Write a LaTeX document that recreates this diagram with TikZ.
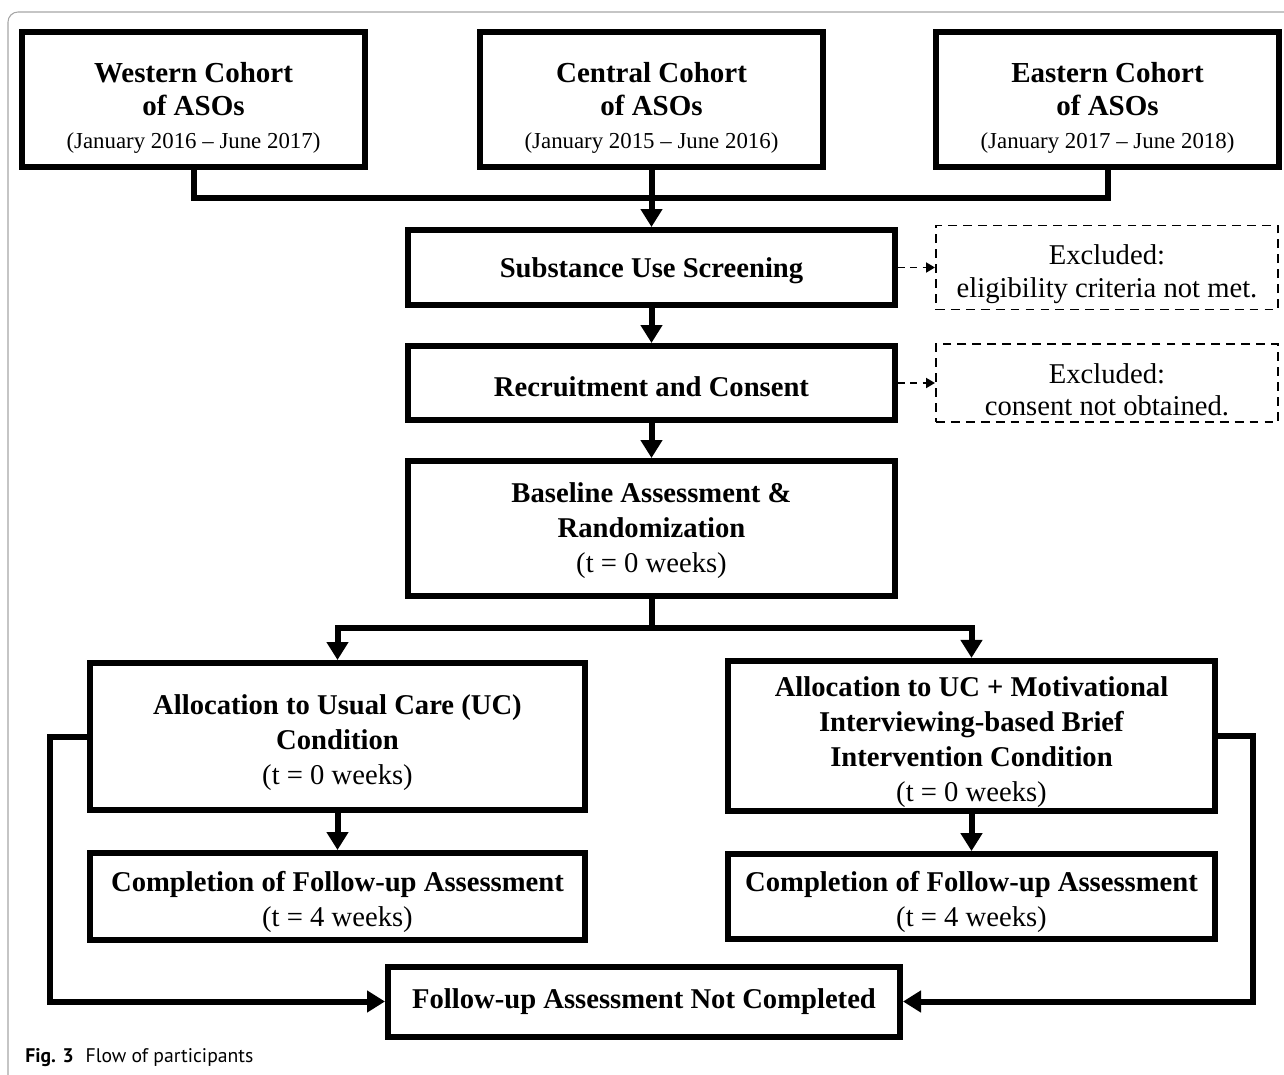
\documentclass[tikz,border=0pt]{standalone}
\usepackage{fontspec}
\setmainfont{Liberation Serif}
\newfontfamily\capfont{PT Sans}
\usepackage{tikz}
\usetikzlibrary{arrows.meta,positioning,calc}
\newcommand{\topstrut}[1]{\rule{0pt}{#1}}

\begin{document}
\begin{tikzpicture}[
    box/.style={rectangle, draw, line width=0.12cm, align=center, inner sep=2pt, font=\fontsize{16.3}{20}\selectfont},
    exclbox/.style={rectangle, draw, dash pattern=on 5pt off 3.5pt, line width=1.1pt, align=center, minimum width=6.84cm, minimum height=1.5cm, font=\fontsize{16.3}{18.6}\selectfont},
    cohort/.style={box, minimum width=6.86cm, minimum height=2.7cm, font=\fontsize{16.5}{18.6}\selectfont},
    link/.style={line width=0.12cm},
    arrow/.style={-{Triangle[length=0.36cm, width=0.42cm]}, line width=0.12cm},
    dasharrow/.style={-{Triangle[length=0.18cm, width=0.2cm]}, dash pattern=on 4pt off 3pt, line width=1.1pt}
  ]
    \useasboundingbox (0,0) rectangle (25.68,-21.5);
    % frame
    \draw[gray!70, line width=0.6pt, rounded corners=0.2cm] (0.16,-21.6) -- (0.16,-0.24) -- (25.8,-0.24);

    % cohorts
    \node[cohort] (central) at (13.03,-1.99) {\topstrut{21pt}\textbf{Central Cohort}\\\textbf{of ASOs}\\{\fontsize{13}{16}\selectfont (January 2015 – June 2016)}};
    \node[cohort, left=2.18cm of central] (western) {\topstrut{21pt}\textbf{Western Cohort}\\\textbf{of ASOs}\\{\fontsize{13}{16}\selectfont (January 2016 – June 2017)}};
    \node[cohort, right=2.14cm of central] (eastern) {\topstrut{21pt}\textbf{Eastern Cohort}\\\textbf{of ASOs}\\{\fontsize{13}{16}\selectfont (January 2017 – June 2018)}};

    % main column
    \node[box, minimum width=9.74cm, minimum height=1.5cm, below=1.14cm of central] (screen) {\topstrut{15pt}\textbf{Substance Use Screening}};
    \node[box, minimum width=9.74cm, minimum height=1.48cm, below=0.7cm of screen] (recruit) {\topstrut{15pt}\textbf{Recruitment and Consent}};
    \node[box, minimum width=9.74cm, minimum height=2.7cm, below=0.7cm of recruit] (baseline) {\topstrut{14pt}\textbf{Baseline Assessment \&}\\\textbf{Randomization}\\(t = 0 weeks)};

    % exclusions
    \node[exclbox, right=0.74cm of screen] (excl1) {\topstrut{19pt}Excluded:\\eligibility criteria not met.};
    \node[exclbox, right=0.74cm of recruit] (excl2) {\topstrut{19pt}Excluded:\\consent not obtained.};

    % arms
    \node[box, minimum width=9.9cm, minimum height=2.94cm] (uc) at (6.75,-14.73) {\topstrut{18pt}\textbf{Allocation to Usual Care (UC)}\\\textbf{Condition}\\(t = 0 weeks)};
    \node[box, minimum width=9.74cm, minimum height=2.84cm] (mi) at (19.43,-14.72) {\topstrut{18pt}\textbf{Allocation to UC + Motivational}\\\textbf{Interviewing-based Brief}\\\textbf{Intervention Condition}\\(t = 0 weeks)};
    \node[box, minimum width=9.9cm, minimum height=1.74cm, below=0.74cm of uc] (compuc) {\topstrut{18pt}\textbf{Completion of Follow-up Assessment}\\(t = 4 weeks)};
    \node[box, minimum width=9.74cm, minimum height=1.7cm, below=0.74cm of mi] (compmi) {\topstrut{18pt}\textbf{Completion of Follow-up Assessment}\\(t = 4 weeks)};
    \node[box, minimum width=10.24cm, minimum height=1.4cm] (notcomp) at (12.88,-20.03) {\textbf{Follow-up Assessment Not Completed}};

    \node[anchor=base west, inner sep=0pt] (caption) at (0.5,-21.24) {\capfont\fontsize{11.2}{13}\selectfont\textbf{Fig. 3}\hspace{0.6em}Flow of participants};

    % connectors
    \coordinate (hub) at ($(central.south)+(0,-0.56)$);
    \coordinate (split) at ($(baseline.south)+(0,-0.58)$);
    \draw[link] (western.south) |- (hub) -| (eastern.south);
    \draw[arrow] (central.south) -- (screen.north);
    \draw[arrow] (screen) -- (recruit);
    \draw[arrow] (recruit) -- (baseline);
    \draw[dasharrow] (screen) -- (excl1);
    \draw[dasharrow] (recruit) -- (excl2);
    \draw[link] (baseline.south) -- (split);
    \draw[arrow] (split) -| (uc.north);
    \draw[arrow] (split) -| (mi.north);
    \draw[arrow] (uc) -- (compuc);
    \draw[arrow] (mi) -- (compmi);
    \draw[arrow] (uc.west) -- ++(-0.74,0) |- (notcomp.west);
    \draw[arrow] (mi.east) -- ++(0.7,0) |- (notcomp.east);
  \end{tikzpicture}
\end{document}
